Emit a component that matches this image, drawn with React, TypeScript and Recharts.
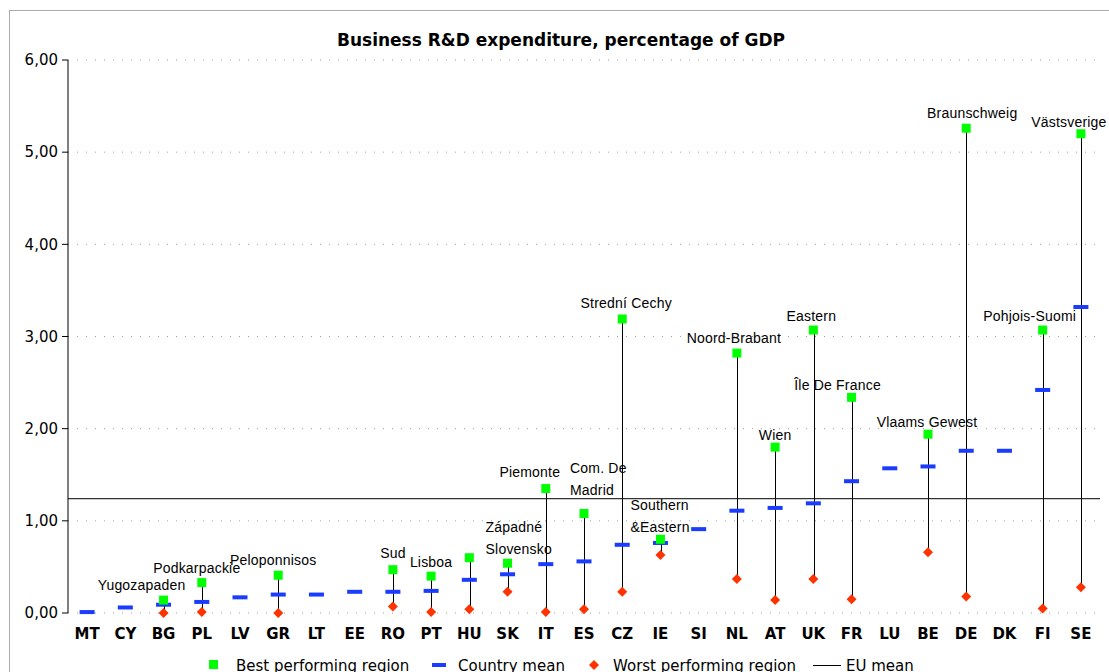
import React from 'react'
import {
  ComposedChart,
  Bar,
  Line,
  XAxis,
  YAxis,
  CartesianGrid,
  ReferenceLine,
} from 'recharts'

const countries = ['MT', 'CY', 'BG', 'PL', 'LV', 'GR', 'LT', 'EE', 'RO', 'PT', 'HU', 'SK', 'IT', 'ES', 'CZ', 'IE', 'SI', 'NL', 'AT', 'UK', 'FR', 'LU', 'BE', 'DE', 'DK', 'FI', 'SE']

const countryMean = [0.01, 0.06, 0.09, 0.12, 0.17, 0.2, 0.2, 0.23, 0.23, 0.24, 0.36, 0.42, 0.53, 0.56, 0.74, 0.76, 0.91, 1.11, 1.14, 1.19, 1.43, 1.57, 1.59, 1.76, 1.76, 2.42, 3.32]

const bestRegion: (number | null)[] = [null, null, 0.14, 0.33, null, 0.41, null, null, 0.47, 0.4, 0.6, 0.54, 1.35, 1.08, 3.19, 0.8, null, 2.82, 1.8, 3.07, 2.34, null, 1.94, 5.26, null, 3.07, 5.2]

const worstRegion: (number | null)[] = [null, null, 0.0, 0.01, null, 0.0, null, null, 0.07, 0.01, 0.04, 0.23, 0.01, 0.04, 0.23, 0.63, null, 0.37, 0.14, 0.37, 0.15, null, 0.66, 0.18, null, 0.05, 0.28]

const bestRegionName = ['', '', 'Yugozapaden', 'Podkarpackie', '', 'Peloponnisos', '', '', 'Sud', 'Lisboa', '', 'Západné\nSlovensko', 'Piemonte', 'Com. De\nMadrid', 'Strední Cechy', 'Southern\n&Eastern', '', 'Noord-Brabant', 'Wien', 'Eastern', 'Île De France', '', 'Vlaams Gewest', 'Braunschweig', '', 'Pohjois-Suomi', 'Västsverige']

const euMean = 1.24

const yTicks = [0, 1, 2, 3, 4, 5, 6]

const data = countries.map((c, i) => ({
  country: c,
  mean: countryMean[i],
  best: bestRegion[i],
  worst: worstRegion[i],
  name: bestRegionName[i],
  range: bestRegion[i] != null && worstRegion[i] != null ? [worstRegion[i], bestRegion[i]] : null,
}))

// label nudges (dx, dy of the last line's centre above the square)
const labelNudge: Record<string, [number, number]> = {
  BG: [-22, 15], PL: [-5, 15], GR: [-5, 15], RO: [0, 17], PT: [0, 14],
  SK: [-22, 14], IT: [-16, 17], ES: [-14, 23], CZ: [4, 16], IE: [-30, 12],
  NL: [-3, 15], AT: [0, 12], UK: [-2, 14], FR: [-14, 12], BE: [-1, 12],
  DE: [6, 15], FI: [-13, 14], SE: [-12, 12],
}

const AXIS_FONT = '"DejaVu Sans", Verdana, sans-serif'
const LABEL_FONT = '"Liberation Sans", Arial, sans-serif'

function RangeLine(props: any) {
  const { x, y, width, height, payload } = props
  if (!payload || payload.range == null) return <g />
  const cx = Math.round(x + width / 2) + 0.5
  const top = Math.min(y, y + height)
  const bottom = Math.max(y, y + height)
  return <line x1={cx} x2={cx} y1={top} y2={bottom} stroke="#000" strokeWidth={1} />
}

function BestDot(props: any) {
  const { cx, cy, payload, index } = props
  if (payload.best == null || cy == null) return <g key={index} />
  const lines = String(payload.name).split('\n')
  const [dx, dy] = labelNudge[payload.country] || [0, 14]
  const multi = lines.length > 1
  const tx = cx + dx
  return (
    <g key={index}>
      <rect x={cx - 4.5} y={cy - 4.5} width={9} height={9} fill="#00FF00" />
      <text
        x={tx}
        textAnchor={multi ? 'start' : 'middle'}
        fontFamily={LABEL_FONT}
        fontSize={14}
        letterSpacing={0.2}
        fill="#000"
      >
        {lines.map((l, k) => (
          <tspan key={k} x={tx} y={cy - dy + 5 - (lines.length - 1 - k) * 22}>{l}</tspan>
        ))}
      </text>
    </g>
  )
}

function MeanDot(props: any) {
  const { cx, cy, index } = props
  if (cy == null) return <g key={index} />
  return <rect key={index} x={cx - 7.5} y={cy - 2} width={15} height={4} fill="#1A3CFF" />
}

function WorstDot(props: any) {
  const { cx, cy, payload, index } = props
  if (payload.worst == null || cy == null) return <g key={index} />
  const r = 5
  return (
    <path key={index} d={`M${cx},${cy - r}L${cx + r},${cy}L${cx},${cy + r}L${cx - r},${cy}Z`} fill="#FF3300" />
  )
}

function LegendRow() {
  const item = { position: 'absolute' as const, top: 657, fontFamily: AXIS_FONT, fontSize: 15, color: '#000', whiteSpace: 'nowrap' as const }
  return (
    <>
      <div style={{ position: 'absolute', left: 209, top: 660, width: 9, height: 9, background: '#00FF00' }} />
      <div style={{ ...item, left: 236 }}>Best performing region</div>
      <div style={{ position: 'absolute', left: 432, top: 663, width: 14, height: 4, background: '#1A3CFF' }} />
      <div style={{ ...item, left: 458 }}>Country mean</div>
      <svg style={{ position: 'absolute', left: 588, top: 659 }} width={12} height={12}>
        <path d="M6,1L11,6L6,11L1,6Z" fill="#FF3300" />
      </svg>
      <div style={{ ...item, left: 613 }}>Worst performing region</div>
      <div style={{ position: 'absolute', left: 813, top: 665, width: 28, height: 1, background: '#000' }} />
      <div style={{ ...item, left: 846 }}>EU mean</div>
    </>
  )
}

export default function App() {
  return (
    <div style={{ position: 'absolute', left: 0, top: 0, width: 1109, height: 672, overflow: 'hidden', background: '#fff' }}>
      <div style={{ position: 'absolute', left: 9, top: 10, width: 1110, height: 700, border: '1px solid #AAAAAA' }} />
      <div
        style={{
          position: 'absolute',
          top: 30,
          left: 0,
          width: 1122,
          textAlign: 'center',
          fontFamily: AXIS_FONT,
          fontWeight: 'bold',
          fontSize: 17,
          color: '#000',
        }}
      >
        Business R&amp;D expenditure, percentage of GDP
      </div>
      <div style={{ position: 'absolute', left: 0, top: 0 }}>
        <ComposedChart width={1109} height={672} data={data} margin={{ top: 60, right: 9, left: 8, bottom: 29 }}>
          <CartesianGrid vertical={false} stroke="#A0A0A0" strokeDasharray="1 8" />
          <XAxis
            dataKey="country"
            height={30}
            axisLine={false}
            tickLine={false}
            tickMargin={9}
            interval={0}
            tick={{ fontFamily: AXIS_FONT, fontSize: 15, fontWeight: 'bold', fill: '#000' }}
          />
          <YAxis
            width={60}
            domain={[0, 6]}
            ticks={yTicks}
            axisLine={{ stroke: '#000' }}
            tickLine={{ stroke: '#000' }}
            tickSize={6}
            tickMargin={4}
            tickFormatter={(v: number) => v.toFixed(2).replace('.', ',')}
            tick={{ fontFamily: AXIS_FONT, fontSize: 15, fill: '#000' }}
          />
          <ReferenceLine y={euMean} stroke="#000" strokeWidth={1} />
          <Bar dataKey="range" shape={RangeLine} isAnimationActive={false} />
          <Line dataKey="worst" stroke="none" dot={WorstDot} activeDot={false} isAnimationActive={false} />
          <Line dataKey="mean" stroke="none" dot={MeanDot} activeDot={false} isAnimationActive={false} />
          <Line dataKey="best" stroke="none" dot={BestDot} activeDot={false} isAnimationActive={false} />
        </ComposedChart>
      </div>
      <LegendRow />
    </div>
  )
}
